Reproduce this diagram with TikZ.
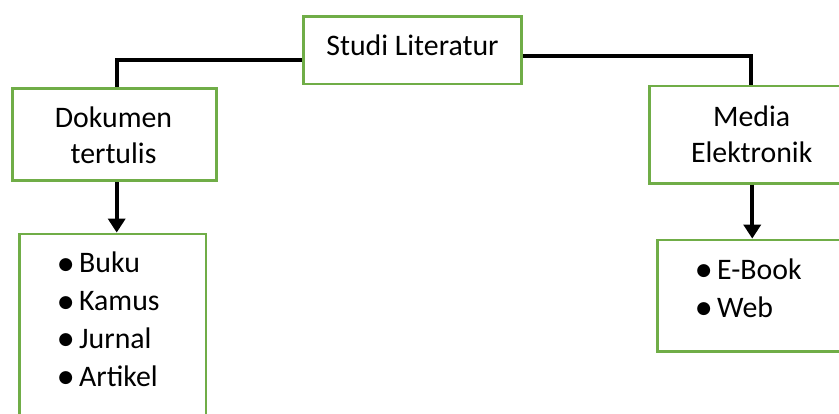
\documentclass[tikz,border=0pt]{standalone}
\usepackage{fontspec}
\setmainfont{Carlito}
\newfontfamily\symfont{DejaVu Sans}
\usetikzlibrary{arrows.meta,calc}
\definecolor{boxgreen}{RGB}{112,173,71}
\newcommand{\bul}{\llap{\makebox[0pt][c]{\raisebox{3.5pt}{\fontsize{17}{17}\symfont ●}}\hspace{13.3pt}}}
\begin{document}
\begin{tikzpicture}[x=1pt,y=-1pt,
  box/.style={draw=boxgreen,line width=2.8pt,rectangle,inner sep=0pt},
  lbl/.style={font=\fontsize{29.8}{35.5}\selectfont,align=center,inner sep=0pt},
  lst/.style={font=\fontsize{29.8}{37.7}\selectfont,align=left,inner sep=0pt},
  conn/.style={line width=4.3pt,black},
  arr/.style={conn,-{Triangle[width=17pt,length=14pt]}}]
\useasboundingbox (0,0) rectangle (839,413);
% boxes
\node[box,minimum width=218.4pt,minimum height=67.3pt] (studi) at (412.5,50.35) {};
\node[box,minimum width=204.4pt,minimum height=92.4pt] (dok) at (114.5,134.5) {};
\node[box,minimum width=186.7pt,minimum height=186pt] (dlist) at (112.65,327) {};
\node[box,minimum width=210.7pt,minimum height=97.3pt] (media) at (754.65,134.65) {};
\node[box,minimum width=202.7pt,minimum height=111.7pt] (mlist) at (758.65,295.85) {};
% texts (base anchor = baseline of the last line)
\node[lbl,anchor=base] (tstudi) at (412.5,55) {Studi Literatur};
\node[lbl,anchor=base] (tdok) at (113.5,163) {Dokumen\\tertulis};
\node[lbl,anchor=base] (tmedia) at (751.7,162) {Media\\Elektronik};
\node[lst,anchor=base west] (tdlist) at (79,386) {\bul Buku\\\bul Kamus\\\bul Jurnal\\\bul Artikel};
\node[lst,anchor=base west] (tmlist) at (717,317) {\bul E-Book\\\bul Web};
% connectors
\draw[conn] ($(studi.west)+(0,9.65)$) -| ($(dok.north)+(2.2,0)$);
\draw[conn] ($(studi.east)+(0,5.65)$) -| ($(media.north)+(-3.6,0)$);
\coordinate (dl) at ($(dok.south)+(2.2,0)$);
\draw[arr] (dl) -- (dl |- dlist.north);
\coordinate (ml) at ($(media.south)+(-2.4,0)$);
\draw[arr] (ml) -- (ml |- mlist.north);
\end{tikzpicture}
\end{document}
